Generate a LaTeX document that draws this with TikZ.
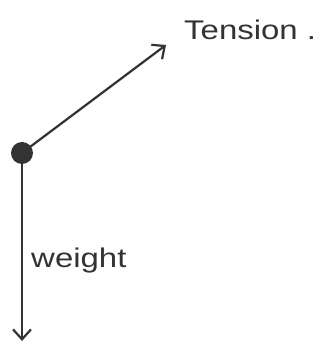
\documentclass[tikz,border=0pt]{standalone}
\usepackage{fontspec}
\setmainfont{Liberation Sans}
\usetikzlibrary{arrows.meta}
\definecolor{ink}{HTML}{333333}
\begin{document}
\begin{tikzpicture}[x=1pt,y=1pt,
  force/.style={draw=ink, line width=2.2pt, -{Straight Barb[length=10pt,width=18pt,line width=2.2pt]}},
  lbl/.style={text=ink, font=\fontsize{27}{27}\selectfont, xscale=1.22, inner sep=0pt}]
\useasboundingbox (0,0) rectangle (325,345);
\fill[white] (0,0) rectangle (325,345);
\node[circle, fill=ink, minimum size=22pt, inner sep=0pt] (dot) at (22,192) {};
\coordinate (t) at (166,300);
\coordinate (w) at (22,4);
\draw[force] (dot.center) -- (t);
\draw[force] (dot.center) -- (w);
\node[lbl, anchor=base west] (tension) at (184,305) {Tension .};
\node[lbl, anchor=base west] (weight) at (31,77) {weight};
\end{tikzpicture}
\end{document}
